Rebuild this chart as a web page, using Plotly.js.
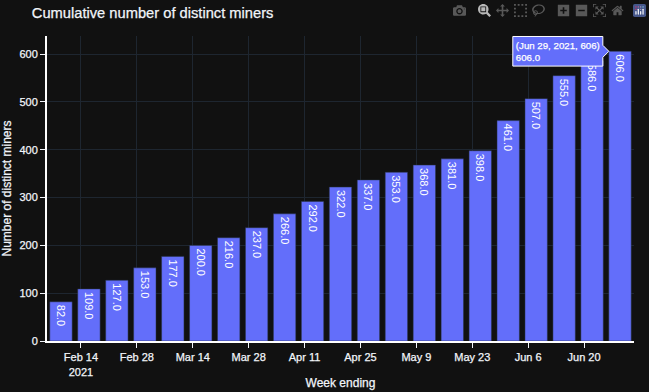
<!DOCTYPE html>
<html>
<head>
<meta charset="utf-8">
<script src="https://cdn.plot.ly/plotly-3.0.1.min.js"></script>
<style>
html,body{margin:0;padding:0;background:#111111;overflow:hidden}
.modebar-btn{font-size:13px !important;padding:3px 2.5px !important}
.modebar-group{padding-left:7px !important}
.modebar{top:0px !important;right:3px !important}
a.modebar-btn--logo,.modebar-btn--logo{display:block !important;width:13px !important;height:13px !important;padding:0 !important;margin-top:4px !important;opacity:1 !important}
.modebar-btn--logo svg{display:block;width:13px;height:13px}
.modebar-btn--logo svg rect:first-of-type,.modebar-btn--logo rect.cls-0{fill:#46578a !important}
.modebar-group:last-child{background:transparent !important}
.xtick text,.ytick text,.xtitle,.ytitle,.gtitle{stroke:#f2f5fa;stroke-width:0.25px}
.hovertext text{stroke:#ffffff;stroke-width:0.25px}
.xtitle{transform:translateY(-3px)}
</style>
</head>
<body>
<div id="chart" style="width:649px;height:392px"></div>
<script>
const weekEnding = ["2021-02-09","2021-02-16","2021-02-23","2021-03-02","2021-03-09","2021-03-16","2021-03-23","2021-03-30","2021-04-06","2021-04-13","2021-04-20","2021-04-27","2021-05-04","2021-05-11","2021-05-18","2021-05-25","2021-06-01","2021-06-08","2021-06-15","2021-06-22","2021-06-29"];
const miners = [82,109,127,153,177,200,216,237,266,292,322,337,353,368,381,398,461,507,555,586,606];
const barLabels = miners.map(v => v.toFixed(1));
const tickDates = ["2021-02-14","2021-02-28","2021-03-14","2021-03-28","2021-04-11","2021-04-25","2021-05-09","2021-05-23","2021-06-06","2021-06-20"];
const tickLabels = ["Feb 14<br>2021","Feb 28","Mar 14","Mar 28","Apr 11","Apr 25","May 9","May 23","Jun 6","Jun 20"];
const yTicks = [0,100,200,300,400,500,600];

const font = "Arial, 'Liberation Sans', sans-serif";
const trace = {
  type: "bar", x: weekEnding, y: miners, text: barLabels,
  textposition: "inside", insidetextanchor: "end", textangle: 90,
  textfont: {color: "#ffffff", size: 11, family: font},
  marker: {color: "#636efa", line: {color: "#283442", width: 0.5}},
  hoverinfo: "x+y+text",
  hoverlabel: {bgcolor: "#636efa", bordercolor: "#ffffff", align: "left", font: {size: 9.7, color: "#ffffff", family: font}}
};
const layout = {
  width: 649, height: 392,
  paper_bgcolor: "#111111", plot_bgcolor: "#111111",
  font: {family: font, color: "#f2f5fa", size: 12},
  title: {text: "Cumulative number of distinct miners", x: 0.049, xanchor: "left", y: 0.966, yanchor: "middle", font: {size: 14.7, color: "#f2f5fa"}},
  margin: {l: 47, r: 15, t: 36, b: 51, pad: 0},
  bargap: 0.2,
  hovermode: "closest",
  dragmode: "zoom",
  showlegend: false,
  xaxis: {
    type: "date", range: ["2021-02-05 12:00","2021-07-02 12:00"],
    tickmode: "array", tickvals: tickDates, ticktext: tickLabels,
    ticks: "outside", ticklen: 5, tickcolor: "#f2f5fa", tickfont: {size: 11},
    showline: true, linecolor: "#ffffff", linewidth: 2,
    gridcolor: "#1e2630", gridwidth: 1, zeroline: false,
    title: {text: "Week ending", font: {size: 12}, standoff: 5}
  },
  yaxis: {
    range: [0, 638], tickmode: "array", tickvals: yTicks,
    ticks: "outside", ticklen: 5, tickcolor: "#f2f5fa", tickfont: {size: 11},
    showline: true, linecolor: "#ffffff", linewidth: 2,
    gridcolor: "#1e2630", gridwidth: 1, zeroline: false,
    title: {text: "Number of distinct miners", font: {size: 12}, standoff: 6}
  }
};
Plotly.newPlot("chart", [trace], layout, {displayModeBar: true, displaylogo: true, responsive: false}).then(gd => {
  Plotly.Fx.hover(gd, [{curveNumber: 0, pointNumber: miners.length - 1}]);
});
</script>
</body>
</html>
